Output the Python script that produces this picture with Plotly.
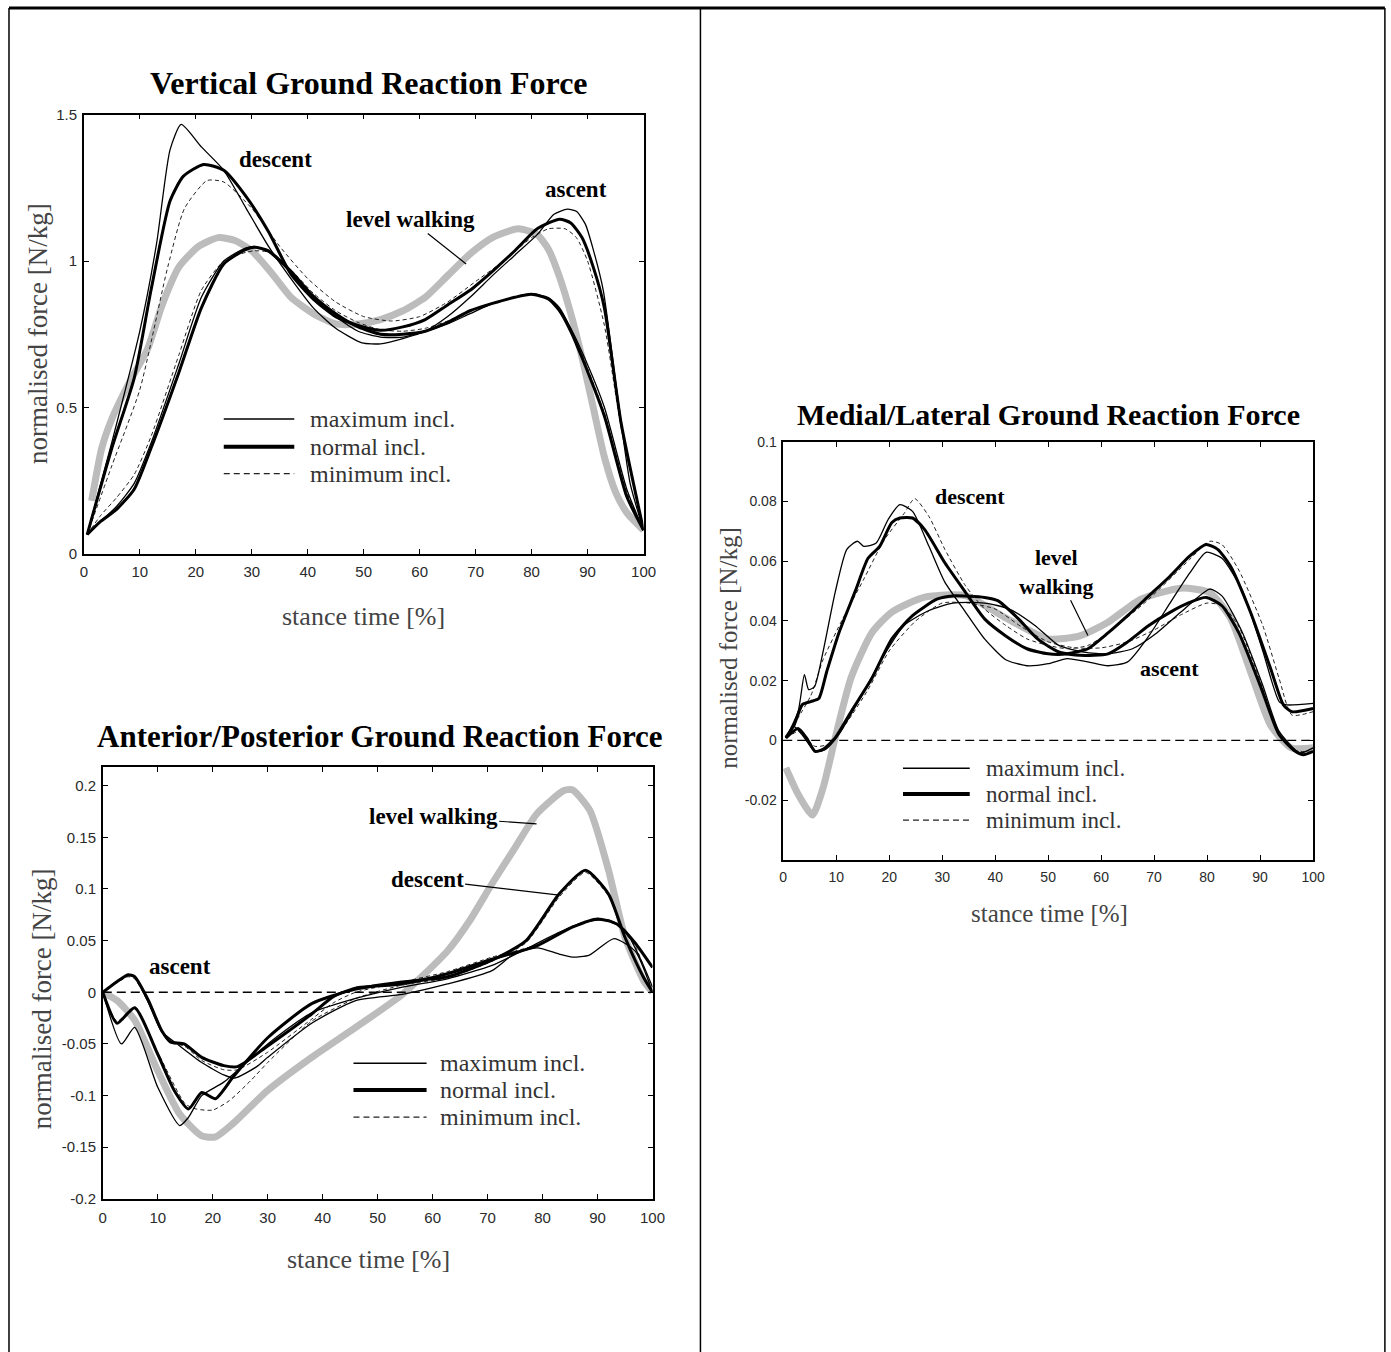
import plotly.graph_objects as go

# ---------------- data: Vertical GRF ----------------
V_X_LEVEL = [1.4, 3.2, 5, 8, 11.4, 14, 17, 20.5, 24, 27, 30, 33.5, 37, 41, 45, 49, 53, 57, 61, 65, 69, 73, 77.6, 81, 83, 85, 87, 89, 91, 93, 95, 97, 100]
V_Y_LEVEL = [0.18, 0.36, 0.46, 0.58, 0.70, 0.85, 0.98, 1.05, 1.08, 1.07, 1.035, 0.96, 0.876, 0.82, 0.785, 0.785, 0.80, 0.83, 0.876, 0.95, 1.024, 1.08, 1.11, 1.09, 1.04, 0.945, 0.82, 0.67, 0.50, 0.33, 0.21, 0.14, 0.08]

V_X_DMAX = [0.6, 5, 10, 13, 15.4, 17.4, 21, 25, 29, 33, 37, 41, 45, 49.7, 53, 57, 61, 65, 69, 73, 77, 81, 84, 86.4, 88, 89.6, 91, 92.8, 95.2, 97.6, 100]
V_Y_DMAX = [0.065, 0.38, 0.76, 1.06, 1.38, 1.467, 1.39, 1.31, 1.18, 1.05, 0.94, 0.84, 0.77, 0.72, 0.717, 0.735, 0.76, 0.81, 0.876, 0.95, 1.02, 1.09, 1.16, 1.177, 1.17, 1.126, 1.04, 0.90, 0.56, 0.24, 0.08]

V_X_DNORM = [0.6, 5, 9, 12, 15.4, 17.8, 21.4, 25, 29, 33, 37, 41, 45, 49, 53, 57, 61, 65, 69, 73, 77, 81, 85, 87, 89, 91, 93, 96, 100]
V_Y_DNORM = [0.065, 0.36, 0.6, 0.9, 1.205, 1.29, 1.33, 1.31, 1.22, 1.10, 0.955, 0.87, 0.81, 0.78, 0.763, 0.775, 0.80, 0.85, 0.90, 0.965, 1.035, 1.11, 1.143, 1.13, 1.08, 0.98, 0.84, 0.445, 0.08]

V_X_DMIN = [0.6, 5, 10, 15, 18, 22, 25, 30, 35, 40, 45, 50, 55, 60, 65, 70, 75, 80, 83, 86, 88, 90, 93, 96, 100]
V_Y_DMIN = [0.065, 0.30, 0.56, 0.98, 1.18, 1.275, 1.27, 1.18, 1.05, 0.94, 0.86, 0.81, 0.795, 0.81, 0.86, 0.93, 1.0, 1.08, 1.11, 1.11, 1.08, 1.0, 0.78, 0.43, 0.08]

V_X_ASC = [0.6, 3, 5.8, 9, 12, 17, 21, 25, 29, 30.5, 33, 37, 41, 45, 49, 53, 57, 61, 65, 69, 73, 77, 80, 83, 85, 87, 89, 93, 97, 100]
V_Y_AMAX = [0.065, 0.11, 0.16, 0.24, 0.377, 0.65, 0.876, 1.0, 1.045, 1.05, 1.03, 0.96, 0.876, 0.81, 0.76, 0.74, 0.74, 0.76, 0.785, 0.82, 0.854, 0.876, 0.888, 0.875, 0.84, 0.77, 0.69, 0.50, 0.22, 0.08]
V_Y_ANORM = [0.065, 0.11, 0.15, 0.22, 0.36, 0.62, 0.84, 0.99, 1.04, 1.047, 1.035, 0.965, 0.88, 0.82, 0.775, 0.75, 0.75, 0.76, 0.79, 0.83, 0.855, 0.876, 0.886, 0.87, 0.83, 0.76, 0.67, 0.47, 0.195, 0.08]
V_Y_AMIN = [0.065, 0.13, 0.19, 0.27, 0.40, 0.68, 0.90, 1.0, 1.03, 1.035, 1.03, 0.97, 0.89, 0.83, 0.79, 0.765, 0.76, 0.77, 0.795, 0.83, 0.855, 0.875, 0.885, 0.87, 0.835, 0.765, 0.68, 0.48, 0.21, 0.08]

# ---------------- data: Anterior/Posterior GRF ----------------
A_X_LEVEL = [0, 2.6, 5.8, 10, 14, 18, 20.5, 23.7, 30, 38, 46, 54.5, 62.7, 66.7, 70.8, 75, 79, 83.8, 85.4, 88.6, 92, 95, 98.4, 100]
A_Y_LEVEL = [0, -0.008, -0.027, -0.076, -0.118, -0.139, -0.14, -0.127, -0.095, -0.063, -0.034, -0.002, 0.04, 0.069, 0.105, 0.14, 0.173, 0.195, 0.196, 0.176, 0.118, 0.053, 0.011, 0]

A_X_DNORM = [0, 2.6, 5.8, 10, 13, 15.6, 18, 20.5, 23.7, 30, 38, 46, 54.5, 62.7, 70.8, 77, 83, 87.8, 92, 95, 98.4, 100]
A_Y_DNORM = [0, -0.03, -0.015, -0.06, -0.095, -0.113, -0.097, -0.103, -0.082, -0.044, -0.011, 0.003, 0.01, 0.015, 0.031, 0.05, 0.095, 0.118, 0.095, 0.053, 0.014, 0]

A_X_DMIN = [0, 2.6, 5.8, 10, 15, 17, 20, 23, 27, 30, 38, 46, 54.5, 62.7, 70.8, 77, 83, 87.8, 92, 95, 98.4, 100]
A_Y_DMIN = [0, -0.028, -0.014, -0.058, -0.108, -0.113, -0.114, -0.105, -0.085, -0.068, -0.028, -0.006, 0.007, 0.014, 0.03, 0.048, 0.092, 0.116, 0.093, 0.052, 0.013, 0]

A_X_DMAX = [0, 3.4, 5.8, 10, 14, 15.6, 18, 22, 30, 38, 46, 54.5, 62.7, 70.8, 77, 83, 88, 92, 95, 98, 100]
A_Y_DMAX = [0, -0.05, -0.034, -0.092, -0.129, -0.121, -0.1, -0.087, -0.05, -0.02, -0.006, 0.005, 0.013, 0.026, 0.042, 0.058, 0.068, 0.07, 0.06, 0.03, 0.005]

A_X_ANORM = [0, 2.5, 4.6, 5.8, 8.3, 10.7, 12.3, 14.8, 18, 22, 24.5, 30, 38, 42, 46, 54.5, 62.7, 70.8, 79, 85.4, 90, 93.5, 96.8, 100]
A_Y_ANORM = [0, 0.01, 0.017, 0.015, -0.008, -0.037, -0.048, -0.05, -0.063, -0.071, -0.072, -0.052, -0.021, -0.004, 0.004, 0.008, 0.018, 0.032, 0.045, 0.063, 0.071, 0.066, 0.048, 0.024]
A_Y_AMIN = [0, 0.009, 0.015, 0.013, -0.01, -0.038, -0.049, -0.052, -0.066, -0.075, -0.075, -0.058, -0.026, -0.01, 0.0, 0.01, 0.02, 0.034, 0.046, 0.064, 0.071, 0.065, 0.045, 0.0]

A_X_AMAX = [0, 4.6, 5.8, 8.3, 10.7, 14, 18, 22, 24, 28, 30, 38, 46, 54.5, 62.7, 70.8, 74.8, 79, 83, 85.4, 88.5, 93, 96.8, 100]
A_Y_AMAX = [0, 0.016, 0.015, -0.01, -0.038, -0.052, -0.068, -0.08, -0.083, -0.072, -0.063, -0.03, -0.008, -0.002, 0.008, 0.021, 0.037, 0.043, 0.037, 0.034, 0.036, 0.052, 0.04, 0]

# ---------------- data: Medial/Lateral GRF ----------------
M_X_LEVEL = [0.5, 2.8, 5.5, 7.5, 9.8, 12.8, 16.7, 20.5, 26.7, 34.4, 42, 50, 56, 61.3, 67.5, 75, 80.5, 84.4, 88.2, 92, 95.9, 100]
M_Y_LEVEL = [-0.0092, -0.018, -0.025, -0.016, 0.0008, 0.021, 0.036, 0.043, 0.048, 0.0485, 0.041, 0.034, 0.035, 0.0396, 0.0473, 0.051, 0.0495, 0.041, 0.023, 0.005, -0.0025, -0.0025]

M_X_DMAX = [0.5, 2.8, 4, 4.8, 5.9, 7.5, 9.8, 12, 14, 15.2, 17.5, 19.8, 22, 24.4, 27.5, 30.5, 34.4, 38, 42, 46, 50, 53.6, 57.5, 61.3, 65, 69, 73, 76.7, 79.8, 82.8, 86.7, 90.5, 93.6, 95, 100]
M_Y_DMAX = [0.0008, 0.0096, 0.022, 0.017, 0.018, 0.0296, 0.0496, 0.064, 0.0667, 0.065, 0.066, 0.074, 0.079, 0.0767, 0.065, 0.053, 0.043, 0.034, 0.027, 0.025, 0.0257, 0.0274, 0.0263, 0.025, 0.0263, 0.035, 0.046, 0.056, 0.063, 0.061, 0.05, 0.03, 0.013, 0.0119, 0.0124]

M_X_DNORM = [0.5, 2, 3.6, 5.2, 6.7, 8.2, 10.5, 13.6, 16, 18.2, 20.5, 22, 24.4, 26.7, 30.5, 34.4, 38, 42, 46, 50, 53.6, 57.5, 61.3, 65, 69, 73, 76.7, 79.8, 82, 84.4, 88.2, 92, 94.4, 96, 100]
M_Y_DNORM = [0.001, 0.005, 0.012, 0.013, 0.014, 0.023, 0.036, 0.05, 0.061, 0.065, 0.073, 0.0745, 0.0745, 0.0706, 0.0595, 0.0496, 0.0407, 0.035, 0.0307, 0.029, 0.029, 0.0307, 0.036, 0.0418, 0.0484, 0.055, 0.0617, 0.0656, 0.064, 0.0584, 0.0429, 0.024, 0.0119, 0.0096, 0.0107]

M_X_DMIN = [0.5, 5.2, 7.5, 11.3, 15.2, 19, 22.8, 24.8, 27.5, 30.5, 34.4, 38, 42, 46, 50, 53.6, 57.5, 61.3, 69, 76.7, 80.5, 82.8, 86, 90.5, 93.6, 96, 100]
M_Y_DMIN = [0.001, 0.015, 0.027, 0.041, 0.054, 0.067, 0.076, 0.081, 0.075, 0.064, 0.0518, 0.044, 0.0385, 0.034, 0.0318, 0.0307, 0.0318, 0.036, 0.0473, 0.0606, 0.0667, 0.0656, 0.057, 0.0385, 0.0207, 0.0085, 0.0096]

M_X_ANORM = [0.5, 2.8, 4.4, 6, 7.5, 9.8, 12.8, 16.7, 20.5, 24.4, 29, 32, 38, 40.5, 44.4, 48, 52, 56, 61.3, 65, 69, 73, 76.7, 79.8, 82.8, 86, 90, 93.6, 96.7, 98.2, 100]
M_Y_ANORM = [0.0008, 0.004, 0.0008, -0.0037, -0.003, 0.0008, 0.0096, 0.0207, 0.034, 0.0418, 0.0473, 0.0484, 0.0479, 0.0468, 0.0407, 0.034, 0.0296, 0.0285, 0.029, 0.033, 0.0385, 0.0429, 0.0462, 0.0479, 0.0451, 0.036, 0.0185, 0.0019, -0.0037, -0.0048, -0.0037]

M_X_AMAX = [0.5, 2, 3.5, 6, 8, 10.5, 15.2, 19, 22.8, 27.5, 32, 38, 42.7, 47.5, 52, 56.7, 61.3, 65.9, 70.5, 75, 80.5, 82.8, 86.7, 90.5, 93.6, 97.5, 100]
M_Y_AMAX = [0.0008, 0.0047, 0.002, -0.0037, -0.003, 0.002, 0.0163, 0.0285, 0.0385, 0.0435, 0.046, 0.046, 0.044, 0.0385, 0.0318, 0.0296, 0.029, 0.0307, 0.036, 0.0429, 0.0507, 0.0484, 0.036, 0.0185, 0.003, -0.0042, -0.0025]

M_X_AMIN = [0.5, 3, 6, 9, 12, 16, 20, 25, 30, 35, 40, 45, 50, 55, 60, 65, 70, 75, 80, 83, 86, 90, 93, 96, 100]
M_Y_AMIN = [0.0008, 0.003, -0.002, -0.001, 0.006, 0.017, 0.03, 0.04, 0.046, 0.046, 0.044, 0.038, 0.033, 0.031, 0.031, 0.033, 0.037, 0.042, 0.046, 0.045, 0.038, 0.02, 0.004, -0.003, -0.004]

LEGEND_LABELS = ["maximum incl.", "normal incl.", "minimum incl."]
X_TICKS = list(range(0, 101, 10))

# ---------------- styles ----------------
SERIF = "Liberation Serif, Times New Roman, serif"
SANS = "Liberation Sans, Arial, sans-serif"
GRAY = "#bcbcbc"
STY = {
    "level": dict(color=GRAY, width=7),
    "max": dict(color="black", width=1.3),
    "norm": dict(color="black", width=3),
    "min": dict(color="#222", width=1, dash="4px,3px"),
}

fig = go.Figure()

def add(x, y, sty, ax):
    fig.add_trace(go.Scatter(x=x, y=y, mode="lines", line=dict(**STY[sty], shape="spline", smoothing=0.6),
                             xaxis="x" + ax, yaxis="y" + ax, showlegend=False, hoverinfo="skip"))

# Vertical (axis "")
add(V_X_LEVEL, V_Y_LEVEL, "level", "")
add(V_X_ASC, V_Y_AMIN, "min", "")
add(V_X_ASC, V_Y_AMAX, "max", "")
add(V_X_ASC, V_Y_ANORM, "norm", "")
add(V_X_DMIN, V_Y_DMIN, "min", "")
add(V_X_DMAX, V_Y_DMAX, "max", "")
add(V_X_DNORM, V_Y_DNORM, "norm", "")
# AP (axis "2")
add(A_X_LEVEL, A_Y_LEVEL, "level", "2")
add(A_X_ANORM, A_Y_AMIN, "min", "2")
add(A_X_AMAX, A_Y_AMAX, "max", "2")
add(A_X_ANORM, A_Y_ANORM, "norm", "2")
add(A_X_DMIN, A_Y_DMIN, "min", "2")
add(A_X_DMAX, A_Y_DMAX, "max", "2")
add(A_X_DNORM, A_Y_DNORM, "norm", "2")
# ML (axis "3")
add(M_X_LEVEL, M_Y_LEVEL, "level", "3")
add(M_X_AMIN, M_Y_AMIN, "min", "3")
add(M_X_AMAX, M_Y_AMAX, "max", "3")
add(M_X_ANORM, M_Y_ANORM, "norm", "3")
add(M_X_DMIN, M_Y_DMIN, "min", "3")
add(M_X_DMAX, M_Y_DMAX, "max", "3")
add(M_X_DNORM, M_Y_DNORM, "norm", "3")

W, H = 1391, 1352
# the photographed page comes out slightly scaled/offset; compensate
SC, OX, OY = 0.99, 2.0, 7.0
def px(x): return ((x - OX) / SC) / W
def py(y): return 1 - ((y - OY) / SC) / H

def axis_common(fs=15, **kw):
    d = dict(showline=True, linecolor="black", linewidth=1.5, mirror="ticks", ticks="inside",
             ticklen=5, tickcolor="black", showgrid=False, zeroline=False,
             tickfont=dict(family=SANS, size=fs, color="#2a2a2a"), fixedrange=True)
    d.update(kw)
    return d

fig.update_layout(
    width=W, height=H, autosize=False, margin=dict(l=0, r=0, t=0, b=0),
    paper_bgcolor="white", plot_bgcolor="white",
    xaxis=axis_common(domain=[px(82), px(643)], range=[0, 100], tickvals=X_TICKS, anchor="y",
                      ticklabelstandoff=4),
    yaxis=axis_common(domain=[py(553), py(113)], range=[0, 1.5], tickvals=[0, 0.5, 1, 1.5],
                      ticktext=["0", "0.5", "1", "1.5"], anchor="x", ticklabelstandoff=2),
    xaxis2=axis_common(domain=[px(101), px(652)], range=[0, 100], tickvals=X_TICKS, anchor="y2",
                       ticklabelstandoff=4),
    yaxis2=axis_common(domain=[py(1200), py(767)], range=[-0.2, 0.218],
                       tickvals=[-0.2, -0.15, -0.1, -0.05, 0, 0.05, 0.1, 0.15, 0.2],
                       ticktext=["-0.2", "-0.15", "-0.1", "-0.05", "0", "0.05", "0.1", "0.15", "0.2"],
                       anchor="x2", ticklabelstandoff=2),
    xaxis3=axis_common(fs=14, domain=[px(783), px(1314)], range=[0, 100], tickvals=X_TICKS, anchor="y3",
                       ticklabelstandoff=4),
    yaxis3=axis_common(fs=14, domain=[py(860), py(441)], range=[-0.04, 0.1],
                       tickvals=[-0.04, -0.02, 0, 0.02, 0.04, 0.06, 0.08, 0.1],
                       ticktext=["", "-0.02", "0", "0.02", "0.04", "0.06", "0.08", "0.1"], anchor="x3",
                       ticklabelstandoff=2),
)

shapes = []
anns = []
# outer frame
for (x0, y0, x1, y1, w) in [(7, 6, 1386, 6, 3), (7, 6, 7, 1360, 1.5), (700, 6, 700, 1360, 1.5), (1386, 6, 1386, 1360, 1.5)]:
    shapes.append(dict(type="line", xref="paper", yref="paper", x0=px(x0), y0=py(y0), x1=px(x1), y1=py(y1),
                       line=dict(color="black", width=w)))

# zero dashed reference lines
for ax in ["2", "3"]:
    shapes.append(dict(type="line", xref="x" + ax + " domain", yref="y" + ax, x0=0, x1=1, y0=0, y1=0,
                       line=dict(color="black", width=1.3, dash="9px,5px")))

def legend(ax, x0, x1, xt, ys, fs):
    for lab, sty, yy in zip(LEGEND_LABELS, ["max", "norm", "min"], ys):
        ln = dict(STY[sty])
        if sty == "min":
            ln["dash"] = "6px,4px"
            ln["width"] = 1.3
        elif sty == "norm":
            ln["width"] = 4
        else:
            ln["width"] = 1.5
        shapes.append(dict(type="line", xref="x" + ax, yref="y" + ax, x0=x0, x1=x1, y0=yy, y1=yy, line=ln))
        anns.append(dict(xref="x" + ax, yref="y" + ax, x=xt, y=yy, text=lab, showarrow=False,
                         xanchor="left", yanchor="middle",
                         font=dict(family=SERIF, size=fs, color="#333")))

legend("", 25, 37.6, 40.0, [0.46, 0.365, 0.273], 24)
legend("2", 45.6, 58.9, 61.0, [-0.0686, -0.0947, -0.1208], 24)
legend("3", 22.6, 35.2, 37.8, [-0.0093, -0.018, -0.0267], 23)

def label(ax, x, y, text, fs, tip=None):
    a = dict(xref="x" + ax, yref="y" + ax, text=text, font=dict(family=SERIF, size=fs, color="black"),
             xanchor="center", yanchor="middle")
    if tip is None:
        a.update(x=x, y=y, showarrow=False)
    else:
        a.update(x=tip[0], y=tip[1], ax=x, ay=y, axref="x" + ax, ayref="y" + ax, showarrow=True,
                 arrowhead=0, arrowwidth=1.2, arrowcolor="black")
    anns.append(a)

label("", 34.2, 1.347, "<b>descent</b>", 23)
label("", 87.9, 1.245, "<b>ascent</b>", 23)
label("", 58.3, 1.142, "<b>level walking</b>", 23, tip=(68.3, 0.99))
label("2", 60.1, 0.170, "<b>level walking</b>", 23, tip=(78.9, 0.163))
label("2", 59.0, 0.109, "<b>descent</b>", 23, tip=(83.0, 0.094))
label("2", 14.0, 0.025, "<b>ascent</b>", 23)
label("3", 35.3, 0.0817, "<b>descent</b>", 22)
label("3", 51.6, 0.0565, "<b>level<br>walking</b>", 22, tip=(57.5, 0.0351))
label("3", 72.9, 0.024, "<b>ascent</b>", 22)

# titles
for (x, y, t, fs) in [(368, 81, "Vertical Ground Reaction Force", 32),
                      (379, 736, "Anterior/Posterior Ground Reaction Force", 31),
                      (1049, 414, "Medial/Lateral Ground Reaction Force", 30)]:
    anns.append(dict(xref="paper", yref="paper", x=px(x), y=py(y), text="<b>" + t + "</b>", showarrow=False,
                     xanchor="center", yanchor="middle",
                     font=dict(family=SERIF, size=fs, color="black")))
# axis titles
for (x, y, fs) in [(362, 616, 26), (367, 1261, 26), (1050, 914, 25)]:
    anns.append(dict(xref="paper", yref="paper", x=px(x), y=py(y), text="stance time [%]", showarrow=False,
                     xanchor="center", yanchor="middle",
                     font=dict(family=SERIF, size=fs, color="#444")))
for (x, y, fs) in [(36, 332, 27), (41, 999, 27), (728, 647, 25)]:
    anns.append(dict(xref="paper", yref="paper", x=px(x), y=py(y), text="normalised force [N/kg]", showarrow=False,
                     xanchor="center", yanchor="middle",
                     textangle=-90, font=dict(family=SERIF, size=fs, color="#444")))

fig.update_layout(shapes=shapes, annotations=anns)
fig.write_html("out.html")
